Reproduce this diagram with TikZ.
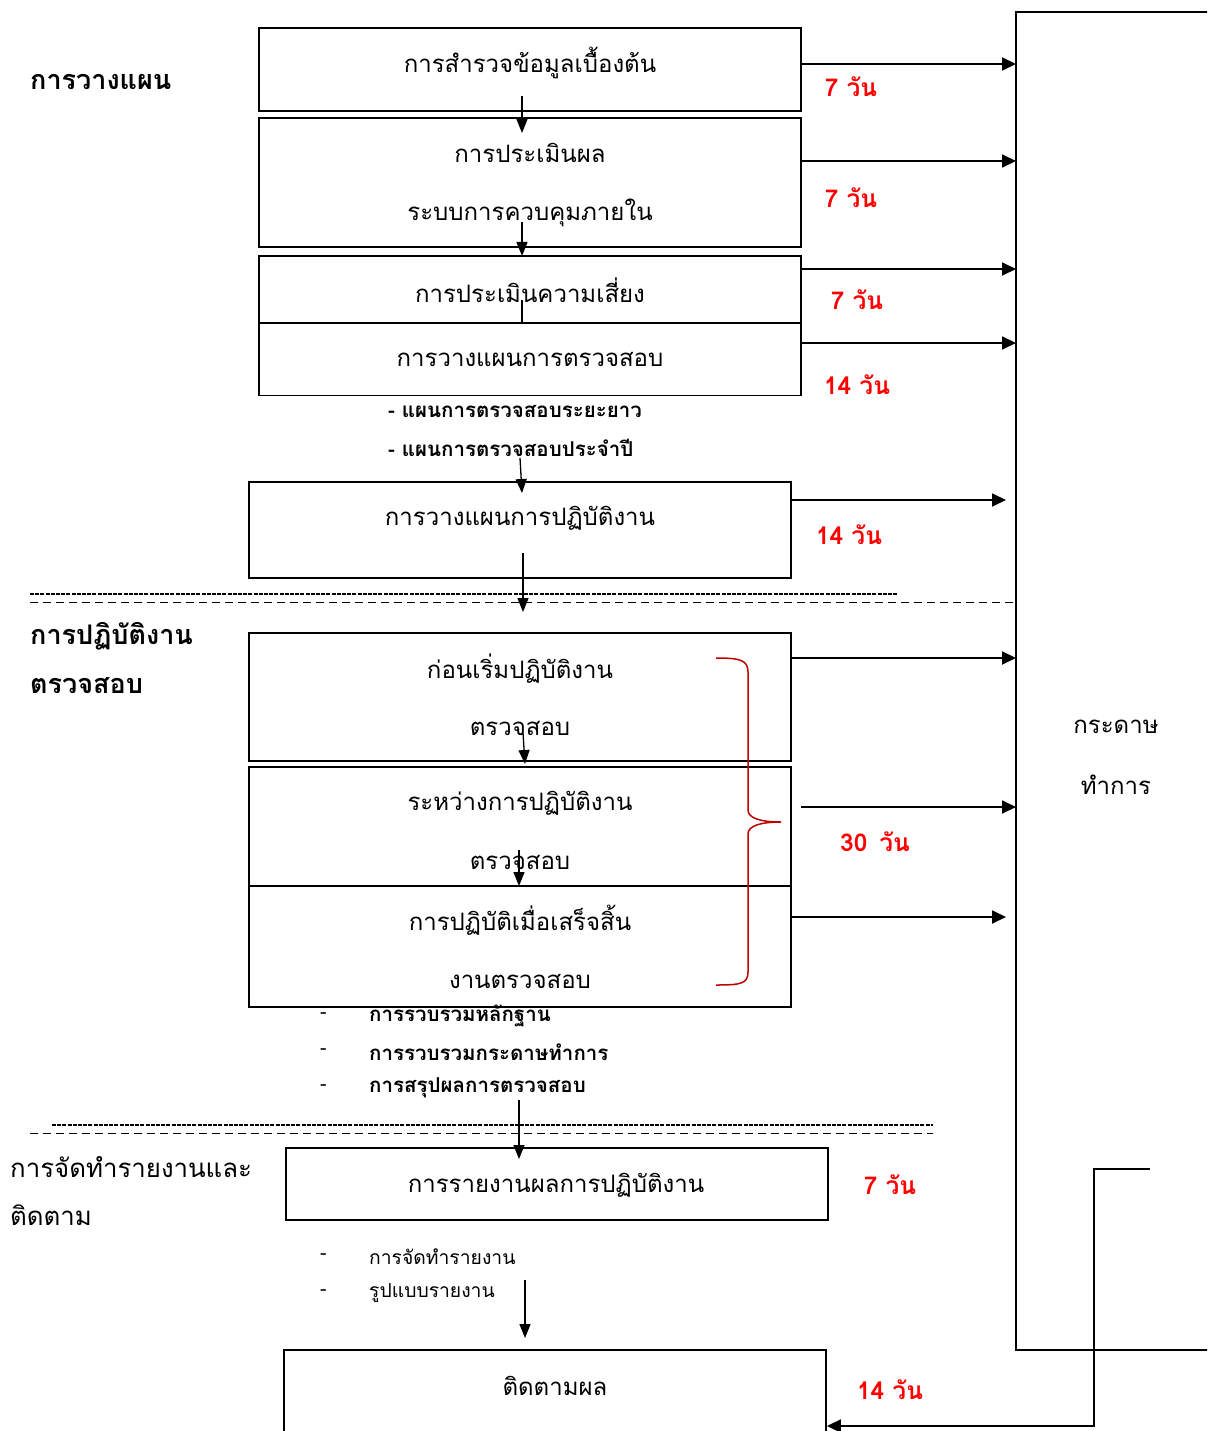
\documentclass[tikz,border=0pt]{standalone}
\usepackage{fontspec}
\setmainfont[Script=Thai]{Loma}
\usetikzlibrary{arrows.meta}
\definecolor{lblred}{RGB}{255,0,0}
\definecolor{bracered}{RGB}{192,0,0}
\tikzset{
  boxn/.style={draw, line width=1.8pt, inner sep=0pt},
  txt/.style={inner sep=0pt, font=\fontsize{24}{28}\selectfont},
  head/.style={inner sep=0pt, anchor=west, font=\fontsize{27}{31}\selectfont\bfseries},
  headn/.style={inner sep=0pt, anchor=west, font=\fontsize{25.8}{30}\selectfont},
  bul/.style={inner sep=0pt, anchor=west, font=\fontsize{20.5}{24}\selectfont\bfseries},
  buln/.style={inner sep=0pt, anchor=west, font=\fontsize{19.3}{23}\selectfont},
  days/.style={inner sep=0pt, text=lblred, font=\fontsize{24.5}{28}\selectfont\bfseries},
  harr/.style={line width=1.8pt, -{Triangle[length=14pt,width=13pt]}},
  varr/.style={line width=1.3pt, -{Triangle[length=14pt,width=11pt]}},
  dense/.style={line width=1.8pt, dash pattern=on 4pt off 1.2pt},
  sparse/.style={line width=1pt, dash pattern=on 8pt off 5pt},
}
\begin{document}
\begin{tikzpicture}[x=1pt,y=-1pt]
\clip (0,0) rectangle (1207,1431);
\fill[white] (0,0) rectangle (1207,1431);

% big working-paper box
\draw[line width=1.6pt] (1240,12) -- (1016,12) -- (1016,1350) -- (1240,1350);
\coordinate (pw) at (1016,12);
\node[txt] (ppa) at (1116,727) {กระดาษ};
\node[txt] (ppb) at (1116,785) {ทำการ};

% headers
\node[head] (h1) at (30,82) {การวางแผน};
\node[head] (h2) at (30,636) {การปฏิบัติงาน};
\node[head] (h2b) at (30,686) {ตรวจสอบ};
\node[headn] (h3) at (10,1167) {การจัดทำรายงานและ};
\node[headn] (h3b) at (10,1215) {ติดตาม};

% boxes
\node[boxn, minimum width=542pt, minimum height=83pt] (b1) at (530,69.5) {};
\node[boxn, minimum width=542pt, minimum height=129pt] (b2) at (530,182.5) {};
\node[boxn, minimum width=542pt, minimum height=67pt] (b3) at (530,289.5) {};
\node[boxn, minimum width=542pt, minimum height=72pt] (b3b) at (530,359.5) {};
\node[boxn, minimum width=542pt, minimum height=96pt] (b4) at (520,530) {};
\node[boxn, minimum width=542pt, minimum height=128pt] (b5) at (520,697) {};
\node[boxn, minimum width=542pt, minimum height=119pt] (b6) at (520,826.5) {};
\node[boxn, minimum width=542pt, minimum height=121pt] (b7) at (520,946.5) {};
\node[boxn, minimum width=542pt, minimum height=72pt] (b8) at (557,1184) {};
\node[boxn, minimum width=542pt, minimum height=100pt] (b9) at (555,1400) {};

% box texts
\node[txt] (t1) at (530,63) {การสำรวจข้อมูลเบื้องต้น};
\node[txt] (t2a) at (530,153) {การประเมินผล};
\node[txt] (t2b) at (530,213) {ระบบการควบคุมภายใน};
\node[txt] (t3) at (530,290) {การประเมินความเสี่ยง};
\node[txt] (t3b) at (530,359) {การวางแผนการตรวจสอบ};
\node[txt] (t4) at (520,518) {การวางแผนการปฏิบัติงาน};
\node[txt] (t5a) at (520,669) {ก่อนเริ่มปฏิบัติงาน};
\node[txt] (t5b) at (520,728) {ตรวจสอบ};
\node[txt] (t6a) at (520,803) {ระหว่างการปฏิบัติงาน};
\node[txt] (t6b) at (520,862) {ตรวจสอบ};
\node[txt] (t7a) at (520,920) {การปฏิบัติเมื่อเสร็จสิ้น};
\node[txt] (t7b) at (520,981) {งานตรวจสอบ};
\node[txt] (t8) at (556,1185) {การรายงานผลการปฏิบัติงาน};
\node[txt] (t9) at (555,1386) {ติดตามผล};

% bullet lists
\node[bul] (l1) at (388,412) {- แผนการตรวจสอบระยะยาว};
\node[bul] (l2) at (388,448) {- แผนการตรวจสอบประจำปี};
\node[buln] (d1) at (320,1016) {-};
\node[bul] (l3) at (369,1016) {การรวบรวมหลักฐาน};
\node[buln] (d2) at (320,1052) {-};
\node[bul] (l4) at (369,1052) {การรวบรวมกระดาษทำการ};
\node[buln] (d3) at (320,1088) {-};
\node[bul] (l5) at (369,1088) {การสรุปผลการตรวจสอบ};
\node[buln] (d4) at (320,1257) {-};
\node[buln] (l6) at (369,1257) {การจัดทำรายงาน};
\node[buln] (d5) at (320,1293) {-};
\node[buln] (l7) at (369,1293) {รูปแบบรายงาน};

% vertical arrows
\coordinate (a1s) at (522,96);   \coordinate (a1e) at (522,133);
\coordinate (a2s) at (522,222);  \coordinate (a2e) at (522,256);
\coordinate (a3s) at (522,300);  \coordinate (a3e) at (522,323);
\coordinate (a4s) at (520,458);  \coordinate (a4e) at (522,493);
\coordinate (a5s) at (523,553);  \coordinate (a5e) at (523,612);
\coordinate (a6s) at (523,733);  \coordinate (a6e) at (525,764);
\coordinate (a7s) at (519,850);  \coordinate (a7e) at (519,886);
\coordinate (a8s) at (519,1100); \coordinate (a8e) at (519,1159);
\coordinate (a9s) at (525,1280); \coordinate (a9e) at (525,1338);
\draw[varr] (a1s) -- (a1e);
\draw[varr] (a2s) -- (a2e);
\draw[line width=1.3pt] (a3s) -- (a3e);
\draw[varr] (a4s) -- (a4e);
\draw[varr] (a5s) -- (a5e);
\draw[varr] (a6s) -- (a6e);
\draw[varr] (a7s) -- (a7e);
\draw[varr] (a8s) -- (a8e);
\draw[varr] (a9s) -- (a9e);

% horizontal arrows to working papers
\coordinate (r1) at (1016,64);
\coordinate (r2) at (1016,161);
\coordinate (r3) at (1016,269);
\coordinate (r4) at (1016,343);
\coordinate (r5) at (1006,500);
\coordinate (r6) at (1016,658);
\coordinate (r7) at (1016,807);
\coordinate (r7s) at (801,807);
\coordinate (r8) at (1006,917);
\draw[harr] (b1.east |- r1) -- (r1);
\draw[harr] (b2.east |- r2) -- (r2);
\draw[harr] (b3.east |- r3) -- (r3);
\draw[harr] (b3b.east |- r4) -- (r4);
\draw[harr] (b4.east |- r5) -- (r5);
\draw[harr] (b5.east |- r6) -- (r6);
\draw[harr] (r7s) -- (r7);
\draw[harr] (b7.east |- r8) -- (r8);

% feedback connector
\coordinate (f0) at (1150,1169);
\coordinate (f1) at (1094,1169);
\coordinate (f2) at (1094,1426);
\draw[harr] (f0) -- (f1) -- (f2) -- (b9.east |- f2);

% day labels
\node[days] (dd1) at (851,87) {7 วัน};
\node[days] (dd2) at (851,198) {7 วัน};
\node[days] (dd3) at (857,300) {7 วัน};
\node[days] (dd4) at (857,385) {14 วัน};
\node[days] (dd5) at (849,535) {14 วัน};
\node[days] (dd6) at (875,842) {30\hspace{12pt}วัน};
\node[days] (dd7) at (890,1185) {7 วัน};
\node[days] (dd8) at (890,1390) {14 วัน};

% brace
\draw[bracered, line width=1.5pt]
  (716,658) .. controls (740,658) and (748,660) .. (748,672)
  -- (748,810) .. controls (748,818) and (760,822) .. (781,822)
  .. controls (760,822) and (748,826) .. (748,834)
  -- (748,972) .. controls (748,984) and (740,985) .. (716,985);

% separators
\draw[dense] (30,594) -- (897,594);
\draw[sparse] (30,602) -- (1016,602);
\draw[dense] (52,1125) -- (933,1125);
\draw[sparse] (30,1133) -- (933,1133);
\end{tikzpicture}
\end{document}
